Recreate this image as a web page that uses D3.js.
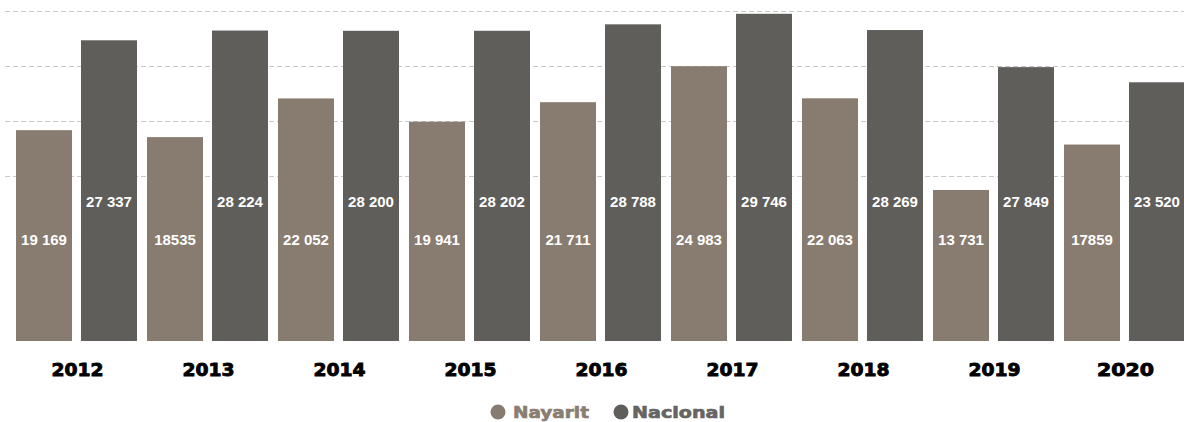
<!DOCTYPE html>
<html lang="es">
<head>
<meta charset="utf-8">
<style>
  body { margin: 0; background: #fff; }
  .grid line { stroke: #c8c8c8; stroke-width: 1px; stroke-dasharray: 5 3; }
  .val { fill: #fff; font-family: "Liberation Sans", Arial, sans-serif; font-weight: bold; font-size: 15px; }
  .year { fill: #000; stroke: #000; stroke-width: 0.9px; font-family: "DejaVu Sans", sans-serif; font-weight: bold; font-size: 17.5px; }
  .leg { stroke-width: 0.7px; font-family: "DejaVu Sans", sans-serif; font-weight: bold; font-size: 16.5px; }
</style>
</head>
<body>
<svg width="1184" height="422"></svg>
<script src="https://cdn.jsdelivr.net/npm/d3@7"></script>
<script>
var years = ["2012", "2013", "2014", "2015", "2016", "2017", "2018", "2019", "2020"];
var series = ["Nayarit", "Nacional"];

// bar heights as drawn (2019 Nacional bar is drawn shorter than its label)
var nayarit = [19169, 18535, 22052, 19941, 21711, 24983, 22063, 13731, 17859];
var nacional = [27337, 28224, 28200, 28202, 28788, 29746, 28269, 24900, 23520];

// labels as printed on the bars
var nayaritLabels = ["19 169", "18535", "22 052", "19 941", "21 711", "24 983", "22 063", "13 731", "17859"];
var nacionalLabels = ["27 337", "28 224", "28 200", "28 202", "28 788", "29 746", "28 269", "27 849", "23 520"];

var gridTicks = [15000, 20000, 25000, 30000];
var colors = { "Nayarit": "#887c70", "Nacional": "#5f5e5b" };

var svg = d3.select("svg");

var x0 = d3.scaleBand().domain(years).range([16, 1185]).paddingInner(10 / 131).paddingOuter(0);
var x1 = d3.scaleBand().domain(series).range([0, x0.bandwidth()]).paddingInner(9 / 65);
var y = d3.scaleLinear().domain([0, 30000]).range([341, 11]);

// dashed grid
svg.append("g").attr("class", "grid")
  .selectAll("line").data(gridTicks).enter().append("line")
  .attr("x1", 5).attr("x2", 1184)
  .attr("y1", function (d) { return Math.round(y(d)) + 0.5; })
  .attr("y2", function (d) { return Math.round(y(d)) + 0.5; });

var rows = years.map(function (yr, i) {
  return {
    year: yr,
    items: [
      { key: "Nayarit", value: nayarit[i], label: nayaritLabels[i], ly: 245 },
      { key: "Nacional", value: nacional[i], label: nacionalLabels[i], ly: 207 }
    ]
  };
});

var group = svg.selectAll(".grp").data(rows).enter().append("g")
  .attr("class", "grp")
  .attr("transform", function (d) { return "translate(" + x0(d.year) + ",0)"; });

group.selectAll("rect").data(function (d) { return d.items; }).enter().append("rect")
  .attr("x", function (d) { return x1(d.key); })
  .attr("width", x1.bandwidth())
  .attr("y", function (d) { return y(d.value); })
  .attr("height", function (d) { return y(0) - y(d.value); })
  .attr("fill", function (d) { return colors[d.key]; });

group.selectAll("text.val").data(function (d) { return d.items; }).enter().append("text")
  .attr("class", "val")
  .attr("x", function (d) { return x1(d.key) + x1.bandwidth() / 2; })
  .attr("y", function (d) { return d.ly; })
  .attr("text-anchor", "middle")
  .text(function (d) { return d.label; });

// year labels, wide heavy type
group.append("text")
  .attr("class", "year")
  .attr("x", x0.bandwidth() / 2 + 1)
  .attr("y", 376)
  .attr("text-anchor", "middle")
  .attr("textLength", function (d) { return d.year === "2020" ? 57 : 52; })
  .attr("lengthAdjust", "spacingAndGlyphs")
  .text(function (d) { return d.year; });

// legend
var legend = [
  { key: "Nayarit", cx: 498, tx: 513, w: 76, c: "#8a7e72" },
  { key: "Nacional", cx: 621, tx: 632, w: 93, c: "#666563" }
];
var lg = svg.selectAll(".lg").data(legend).enter().append("g").attr("class", "lg");
lg.append("circle")
  .attr("cx", function (d) { return d.cx; })
  .attr("cy", 412)
  .attr("r", 7.5)
  .attr("fill", function (d) { return colors[d.key]; });
lg.append("text")
  .attr("class", "leg")
  .attr("x", function (d) { return d.tx; })
  .attr("y", 417.5)
  .attr("textLength", function (d) { return d.w; })
  .attr("lengthAdjust", "spacingAndGlyphs")
  .attr("fill", function (d) { return d.c; })
  .attr("stroke", function (d) { return d.c; })
  .text(function (d) { return d.key; });
</script>
</body>
</html>
